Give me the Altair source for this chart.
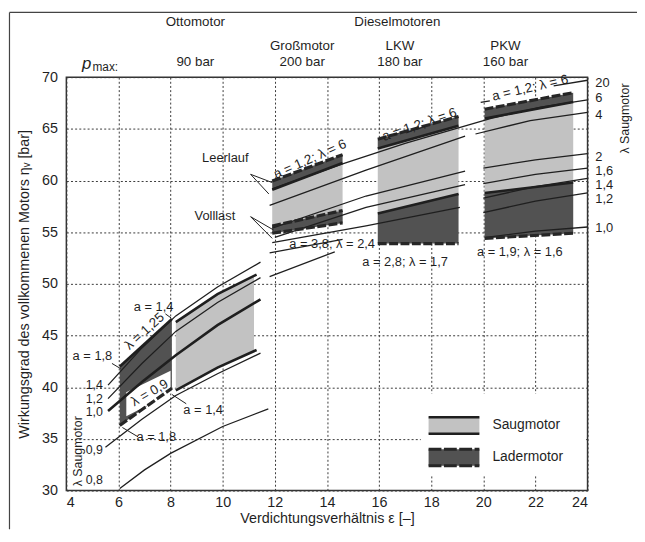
import altair as alt
import pandas as pd

FONT = "Liberation Sans"
INK = "#1f1f1f"
LIGHT = "#c2c2c2"
DARK = "#525252"

x_ticks = [4, 6, 8, 10, 12, 14, 16, 18, 20, 22, 24]
y_ticks = [30, 35, 40, 45, 50, 55, 60, 65, 70]

# ---------- Ottomotor (p_max 90 bar): lambda curves, Saugmotor ----------
otto_lam_08 = [(6.05, 30.2), (7.0, 32.0), (8.0, 33.6), (10.0, 36.2), (11.75, 37.9)]
otto_lam_09 = [(5.5, 34.2), (6.9, 36.9), (8.2, 39.2), (9.8, 41.3), (11.45, 43.3)]
otto_lam_10 = [(5.6, 37.7), (6.9, 40.5), (8.2, 43.1), (9.8, 46.0), (11.45, 48.5)]
otto_lam_12 = [(5.6, 38.9), (6.9, 42.3), (8.2, 45.4), (9.8, 48.2), (11.45, 50.6)]
otto_lam_14 = [(5.6, 40.2), (6.9, 43.8), (8.2, 46.9), (9.8, 49.7), (11.45, 52.1)]
otto_saug_top = [(8.2, 46.3), (9.8, 49.0), (11.3, 50.9)]
otto_saug_bot = [(8.2, 39.7), (9.8, 41.9), (11.3, 43.6)]

# Ottomotor areas: x, upper y, lower y
otto_saug_x = [8.2, 9.8, 11.2]
otto_saug_hi = [46.3, 49.0, 50.75]
otto_saug_lo = [39.7, 41.9, 43.5]
otto_lader_x = [6.05, 8.05]
otto_lader_hi = [42.0, 46.6]
otto_lader_lo = [36.3, 39.9]
otto_label_box_x = [6.3, 8.0]
otto_label_box_hi = [39.5, 41.6]
otto_label_box_lo = [37.2, 39.4]

# ---------- Dieselmotoren blocks ----------
gross_x = [11.9, 14.6]
gross_band_hi = [59.95, 62.5]
gross_band_lo = [59.1, 61.7]
gross_full_hi = [55.6, 57.1]
gross_full_lo = [54.9, 55.9]

lkw_x = [15.95, 19.05]
lkw_band_hi = [64.0, 66.2]
lkw_band_lo = [63.1, 65.3]
lkw_full_hi = [56.8, 58.7]
lkw_full_lo = [53.9, 53.9]

pkw_x = [20.05, 23.45]
pkw_band_hi = [66.9, 68.5]
pkw_band_lo = [66.0, 67.6]
pkw_full_hi = [58.8, 59.8]
pkw_full_lo = [54.4, 54.9]

# ---------- Dieselmotoren: lambda curves ----------
dsl_lam_6 = [(11.9, 59.2), (14.6, 61.6), (17.0, 63.6), (20.3, 66.0), (22.2, 67.1), (24.0, 67.8)]
dsl_gl_a = [(11.8, 57.6), (15.5, 61.0), (19.3, 64.3)]
dsl_gl_b = [(11.9, 55.4), (15.5, 58.5), (19.3, 60.9)]
dsl_gl_c = [(12.0, 54.5), (15.5, 57.4), (19.3, 59.6)]
dsl_gl_d = [(11.9, 54.0), (15.5, 55.6), (19.1, 57.4)]
dsl_gl_e = [(11.8, 53.0), (14.6, 54.3)]
dsl_gl_f = [(11.8, 50.7), (14.3, 53.1)]
pkw_lam_20a = [(19.9, 67.55), (20.25, 67.7)]
pkw_lam_20b = [(22.7, 69.15), (24.0, 69.7)]
pkw_lam_4 = [(19.7, 64.5), (21.8, 65.8), (24.0, 66.6)]
pkw_lam_2 = [(20.0, 61.2), (22.0, 62.0), (24.0, 62.6)]
pkw_lam_16 = [(20.0, 59.7), (22.0, 60.6), (24.0, 61.2)]
pkw_lam_14 = [(20.0, 58.3), (22.0, 59.4), (24.0, 60.2)]
pkw_lam_12 = [(20.0, 56.9), (22.0, 58.0), (24.0, 58.8)]
pkw_lam_10 = [(20.1, 54.5), (22.0, 55.1), (24.0, 55.5)]

# ---------- labels ----------
right_lam_text = ["20", "6", "4", "2", "1,6", "1,4", "1,2", "1,0"]
right_lam_y = [69.45, 68.0, 66.35, 62.3, 60.95, 59.6, 58.2, 55.4]
left_lam_text = ["1,4", "1,2", "1,0", "0,9", "0,8"]
left_lam_y = [40.25, 38.9, 37.55, 33.9, 31.05]

top_text = ["Ottomotor", "Dieselmotoren", "Großmotor", "LKW", "PKW",
            "90 bar", "200 bar", "180 bar", "160 bar"]
top_x = [8.95, 16.7, 13.05, 16.8, 20.85, 8.95, 13.05, 16.8, 20.85]
top_y = [75.3, 75.3, 73.0, 73.0, 73.0, 71.45, 71.45, 71.45, 71.45]

flat_text = ["a = 3,8; λ = 2,4", "a = 2,8; λ = 1,7", "a = 1,9; λ = 1,6",
             "Leerlauf", "Volllast", "a = 1,4", "a = 1,8", "a = 1,4", "a = 1,8"]
flat_x = [14.2, 17.0, 21.4, 10.1, 9.7, 9.25, 7.45, 7.35, 5.0]
flat_y = [53.9, 52.1, 53.05, 62.15, 56.6, 37.75, 35.2, 47.8, 43.0]

tilt_text = ["a = 1,2; λ = 6", "a = 1,2; λ = 6", "a = 1,2; λ = 6", "λ = 1,25", "λ = 0,9"]
tilt_x = [13.35, 17.55, 21.8, 7.0, 7.2]
tilt_y = [62.05, 65.4, 68.95, 45.4, 39.45]
tilt_angle = [336, 341, 347, 318, 330]

leaders = {
    "leer1": [(11.07, 60.6), (11.9, 59.8)],
    "leer2": [(11.07, 60.6), (11.77, 58.7)],
    "voll1": [(11.07, 56.5), (11.96, 55.2)],
    "voll2": [(11.07, 56.5), (11.9, 54.4)],
    "a14o": [(7.8, 47.1), (8.02, 46.7)],
    "a18o": [(5.75, 42.3), (6.08, 41.8)],
    "a14u": [(8.05, 39.3), (8.6, 38.4)],
    "a18u": [(6.15, 36.1), (6.75, 35.2)],
}

legend_label = ["Saugmotor", "Ladermotor"]
legend_y = [36.3, 33.2]

xs = alt.Scale(domain=[4, 24], nice=False, zero=False)
ys = alt.Scale(domain=[30, 70], nice=False, zero=False)
x_axis = alt.Axis(values=x_ticks, title="Verdichtungsverhältnis ε [–]", grid=True,
                  ticks=False, domain=False, labelPadding=5, titlePadding=3)
y_axis = alt.Axis(values=y_ticks, title="Wirkungsgrad des vollkommenen Motors ηᵥ [bar]",
                  grid=True, ticks=False, domain=False, labelPadding=9, titlePadding=10)
X = alt.X("x:Q", scale=xs, axis=x_axis)
Y = alt.Y("y:Q", scale=ys, axis=y_axis)
Ya = alt.Y("y:Q", scale=ys, axis=y_axis, stack=None)


def pts_df(named):
    rows = []
    for name, pts in named.items():
        for i, (x, y) in enumerate(pts):
            rows.append({"grp": name, "x": x, "y": y, "o": i})
    return pd.DataFrame(rows)


def band_df(named):
    rows = []
    for name, (xx, hi, lo) in named.items():
        for x, a, b in zip(xx, hi, lo):
            rows.append({"grp": name, "x": x, "y": a, "y2": b})
    return pd.DataFrame(rows)


def line_layer(named, width, dash=None, color=INK):
    kw = dict(strokeWidth=width, color=color, strokeCap="butt")
    if dash:
        kw["strokeDash"] = dash
    return alt.Chart(pts_df(named)).mark_line(**kw).encode(
        x=X, y=Y, detail="grp:N", order="o:Q")


def area_layer(named, fill):
    return alt.Chart(band_df(named)).mark_area(fill=fill, fillOpacity=1, orient="vertical").encode(
        x=X, y=Ya, y2="y2:Q", detail="grp:N")


def text_layer(df, size=13, align="center", angle=0, baseline="middle", style="normal"):
    return alt.Chart(df).mark_text(font=FONT, fontSize=size, align=align, angle=angle,
                                   baseline=baseline, color=INK, fontStyle=style).encode(
        x=X, y=Y, text="t:N")


light_areas = area_layer({
    "otto": (otto_saug_x, otto_saug_hi, otto_saug_lo),
    "gross": (gross_x, gross_band_lo, gross_full_lo),
    "lkw": (lkw_x, lkw_band_lo, lkw_full_hi),
    "pkw": (pkw_x, pkw_band_lo, pkw_full_hi),
}, LIGHT)

dark_areas = area_layer({
    "otto": (otto_lader_x, otto_lader_hi, otto_lader_lo),
    "gross_b": (gross_x, gross_band_hi, gross_band_lo),
    "gross_f": (gross_x, gross_full_hi, gross_full_lo),
    "lkw_b": (lkw_x, lkw_band_hi, lkw_band_lo),
    "lkw_f": (lkw_x, lkw_full_hi, lkw_full_lo),
    "pkw_b": (pkw_x, pkw_band_hi, pkw_band_lo),
    "pkw_f": (pkw_x, pkw_full_hi, pkw_full_lo),
}, DARK)

white_box = area_layer({"lab": (otto_label_box_x, otto_label_box_hi, otto_label_box_lo)}, "white")

thin_lines = line_layer({
    "o08": otto_lam_08, "o09": otto_lam_09, "o12": otto_lam_12, "o14": otto_lam_14,
    "d6": dsl_lam_6, "da": dsl_gl_a, "db": dsl_gl_b, "dc": dsl_gl_c, "dd": dsl_gl_d,
    "de": dsl_gl_e, "df": dsl_gl_f,
    "p20a": pkw_lam_20a, "p20b": pkw_lam_20b, "p4": pkw_lam_4, "p2": pkw_lam_2,
    "p16": pkw_lam_16, "p14": pkw_lam_14, "p12": pkw_lam_12, "p10": pkw_lam_10,
}, 1.3)

thick_lines = line_layer({
    "o10": otto_lam_10, "ost": otto_saug_top, "osb": otto_saug_bot,
    "olt": list(zip(otto_lader_x, otto_lader_hi)),
    "gbl": list(zip(gross_x, gross_band_lo)),
    "lbl": list(zip(lkw_x, lkw_band_lo)),
    "pbl": list(zip(pkw_x, pkw_band_lo)),
    "pfh": list(zip(pkw_x, pkw_full_hi)),
    "lfh": list(zip(lkw_x, lkw_full_hi)),
}, 2.6)

dashed_edges = line_layer({
    "olb": list(zip(otto_lader_x, otto_lader_lo)),
    "gbh": list(zip(gross_x, gross_band_hi)),
    "gfh": list(zip(gross_x, gross_full_hi)),
    "gfl": list(zip(gross_x, gross_full_lo)),
    "lbh": list(zip(lkw_x, lkw_band_hi)),
    "lfl": list(zip(lkw_x, lkw_full_lo)),
    "pbh": list(zip(pkw_x, pkw_band_hi)),
    "pfl": list(zip(pkw_x, pkw_full_lo)),
}, 3.2, dash=[9, 2.5], color="#262626")

leader_lines = line_layer(leaders, 1.0)

# legend (drawn inside the plot, on a white patch hiding the grid)
legend_bg = alt.Chart(pd.DataFrame({"x": [17.6], "x2": [23.9], "y": [31.4], "y2": [39.4]})).mark_rect(
    color="white").encode(x=X, x2="x2:Q", y=Y, y2="y2:Q")
legend_sw = alt.Chart(pd.DataFrame({"x": [17.9, 17.9], "x2": [19.85, 19.85], "y": [37.1, 34.0],
                                    "y2": [35.5, 32.4], "k": ["s", "l"]})).mark_rect().encode(
    x=X, x2="x2:Q", y=Y, y2="y2:Q",
    color=alt.Color("k:N", scale=alt.Scale(domain=["s", "l"], range=[LIGHT, DARK]), legend=None))
legend_solid = line_layer({"a": [(17.9, 37.1), (19.85, 37.1)], "b": [(17.9, 35.5), (19.85, 35.5)]}, 2.6)
legend_dash = line_layer({"a": [(17.9, 34.0), (19.85, 34.0)], "b": [(17.9, 32.4), (19.85, 32.4)]},
                         3.2, dash=[13, 2.5], color="#262626")
legend_txt = text_layer(pd.DataFrame({"t": legend_label, "x": [20.35, 20.35], "y": legend_y}),
                        size=14, align="left")

right_labels = text_layer(pd.DataFrame({"t": right_lam_text, "x": [24.3] * len(right_lam_text),
                                        "y": right_lam_y}), size=13, align="left")
left_labels = text_layer(pd.DataFrame({"t": left_lam_text, "x": [5.4] * len(left_lam_text),
                                       "y": left_lam_y}), size=12.5, align="right")
top_labels = text_layer(pd.DataFrame({"t": top_text, "x": top_x, "y": top_y}), size=13.5)
pmax_p = text_layer(pd.DataFrame({"t": ["p"], "x": [4.78], "y": [71.3]}), size=17, style="italic")
pmax_sub = text_layer(pd.DataFrame({"t": ["max:"], "x": [5.0], "y": [70.95]}), size=12, align="left")
flat_labels = text_layer(pd.DataFrame({"t": flat_text, "x": flat_x, "y": flat_y}), size=13)

tilt_layers = [
    text_layer(pd.DataFrame({"t": [t], "x": [x], "y": [y]}), size=13.5, angle=a)
    for t, x, y, a in zip(tilt_text, tilt_x, tilt_y, tilt_angle)
]

side_titles = [
    text_layer(pd.DataFrame({"t": ["λ Saugmotor"], "x": [4.45], "y": [33.8]}), size=12.5, angle=270),
    text_layer(pd.DataFrame({"t": ["λ Saugmotor"], "x": [25.45], "y": [66.0]}), size=12.5, angle=270),
]

frame = alt.Chart(pd.DataFrame({"k": [0]})).mark_rule(color="#444", strokeWidth=1.2).encode(
    x=alt.value(-57.5), y=alt.value(-65.5), y2=alt.value(457))
frame_top = alt.Chart(pd.DataFrame({"k": [0]})).mark_rule(color="#444", strokeWidth=1.2).encode(
    x=alt.value(-57.5), x2=alt.value(580), y=alt.value(-65.5))

layers = [light_areas, dark_areas, white_box, thin_lines, thick_lines, dashed_edges, leader_lines,
          legend_bg, legend_sw, legend_solid, legend_dash, legend_txt,
          right_labels, left_labels, top_labels, pmax_p, pmax_sub, flat_labels] + tilt_layers + side_titles + [frame, frame_top]

chart = alt.layer(*layers).properties(
    width=527, height=418,
    padding={"left": 59, "top": 67, "right": 50, "bottom": 41},
    autosize=alt.AutoSizeParams(type="none"),
).configure_view(stroke="#333", strokeWidth=1.5).configure_axis(
    labelFont=FONT, labelFontSize=14.5, labelColor=INK, titleFont=FONT, titleFontSize=14.5,
    titleColor=INK, titleFontWeight="normal", gridColor="#3a3a3a", gridDash=[2, 2.2],
    gridWidth=1, gridOpacity=1,
)

chart.save("out.html", embed_options={"renderer": "svg", "actions": False})
